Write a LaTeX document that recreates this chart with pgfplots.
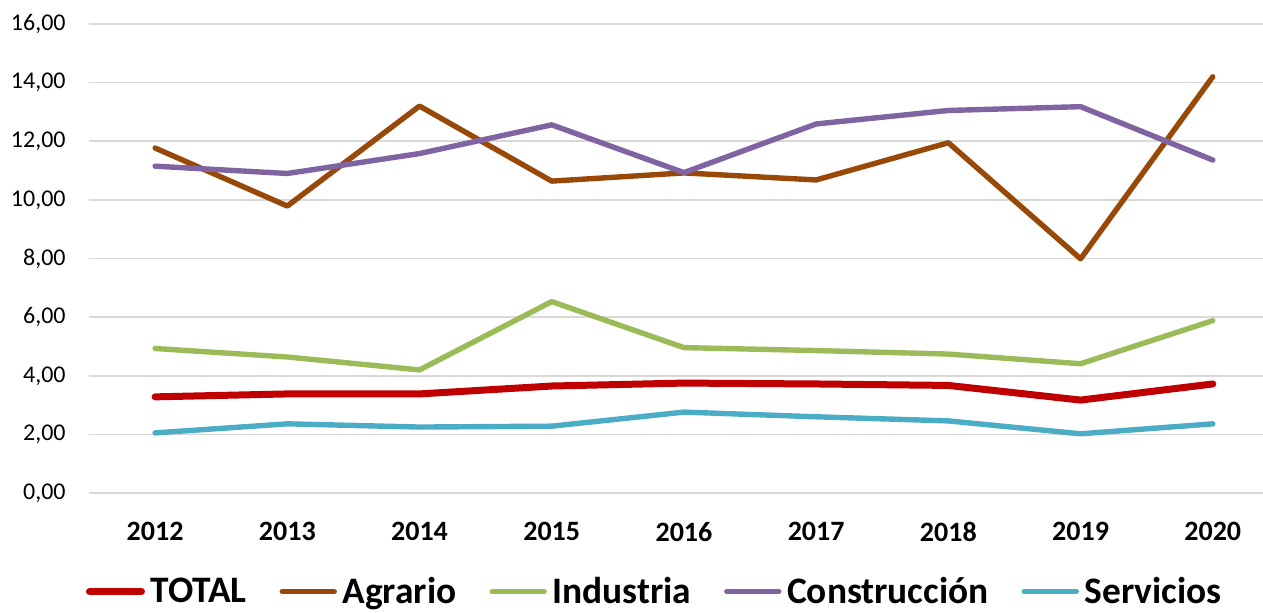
\documentclass[border=0pt]{standalone}
\usepackage{fontspec}
\setmainfont{Carlito}
\usepackage{pgfplots}
\pgfplotsset{compat=1.18}

\definecolor{cTotal}{HTML}{C00000}
\definecolor{cAgr}{HTML}{984807}
\definecolor{cInd}{HTML}{9BBB59}
\definecolor{cCon}{HTML}{8064A2}
\definecolor{cSer}{HTML}{4BACC6}
\definecolor{gridgray}{HTML}{D9D9D9}

\begin{document}
\begin{tikzpicture}
\begin{axis}[
    scale only axis,
    width=587pt, height=234.5pt,
    xmin=2011.5, xmax=2020.38,
    ymin=0, ymax=16,
    xtick={2012,2013,2014,2015,2016,2017,2018,2019,2020},
    xticklabels={2012,2013,2014,2015,2016,2017,2018,2019,2020},
    ytick={0,2,4,6,8,10,12,14,16},
    y tick label style={/pgf/number format/fixed, /pgf/number format/fixed zerofill,
        /pgf/number format/precision=2, /pgf/number format/use comma,
        /pgf/number format/assume math mode=true,
        font=\fontsize{12}{14}\selectfont, anchor=east, inner sep=0pt, xshift=-11.5pt},
    x tick label style={font=\fontsize{14}{16}\selectfont\bfseries, anchor=north,
        inner sep=0pt, yshift=-14.5pt},
    axis line style={draw=none},
    major tick length=0pt,
    ymajorgrids,
    grid style={gridgray, line width=0.8pt},
    every axis plot/.append style={line cap=round, line join=round, no marks},
    legend columns=5,
    legend style={draw=none, fill=none, at={(0.481,-0.21)}, anchor=center,
        font=\fontsize{18.7}{21}\selectfont\bfseries,
        nodes={inner sep=0pt},
        /tikz/every odd column/.append style={column sep=2.8pt},
        /tikz/every even column/.append style={column sep=16.5pt}},
    legend image code/.code={\draw[#1] (0pt,0pt) -- (26pt,0pt);},
]
\addplot[cTotal, line width=3.5pt] coordinates {
(2012,3.28) (2013,3.38) (2014,3.38) (2015,3.65) (2016,3.75) (2017,3.72) (2018,3.67) (2019,3.17) (2020,3.72)};
\addlegendentry{TOTAL}
\addplot[cAgr, line width=2.7pt] coordinates {
(2012,11.77) (2013,9.79) (2014,13.2) (2015,10.64) (2016,10.92) (2017,10.68) (2018,11.95) (2019,7.99) (2020,14.2)};
\addlegendentry{Agrario}
\addplot[cInd, line width=2.7pt] coordinates {
(2012,4.93) (2013,4.64) (2014,4.2) (2015,6.53) (2016,4.96) (2017,4.86) (2018,4.74) (2019,4.41) (2020,5.88)};
\addlegendentry{Industria}
\addplot[cCon, line width=2.7pt] coordinates {
(2012,11.15) (2013,10.9) (2014,11.58) (2015,12.56) (2016,10.93) (2017,12.59) (2018,13.05) (2019,13.18) (2020,11.36)};
\addlegendentry{Construcción}
\addplot[cSer, line width=2.7pt] coordinates {
(2012,2.05) (2013,2.36) (2014,2.25) (2015,2.28) (2016,2.76) (2017,2.6) (2018,2.46) (2019,2.02) (2020,2.36)};
\addlegendentry{Servicios}
\end{axis}
\pgfresetboundingbox
\path ([shift={(-44.5pt,-59.5pt)}]current axis.south west) rectangle ([shift={(0pt,12pt)}]current axis.north east);
\end{tikzpicture}
\end{document}
